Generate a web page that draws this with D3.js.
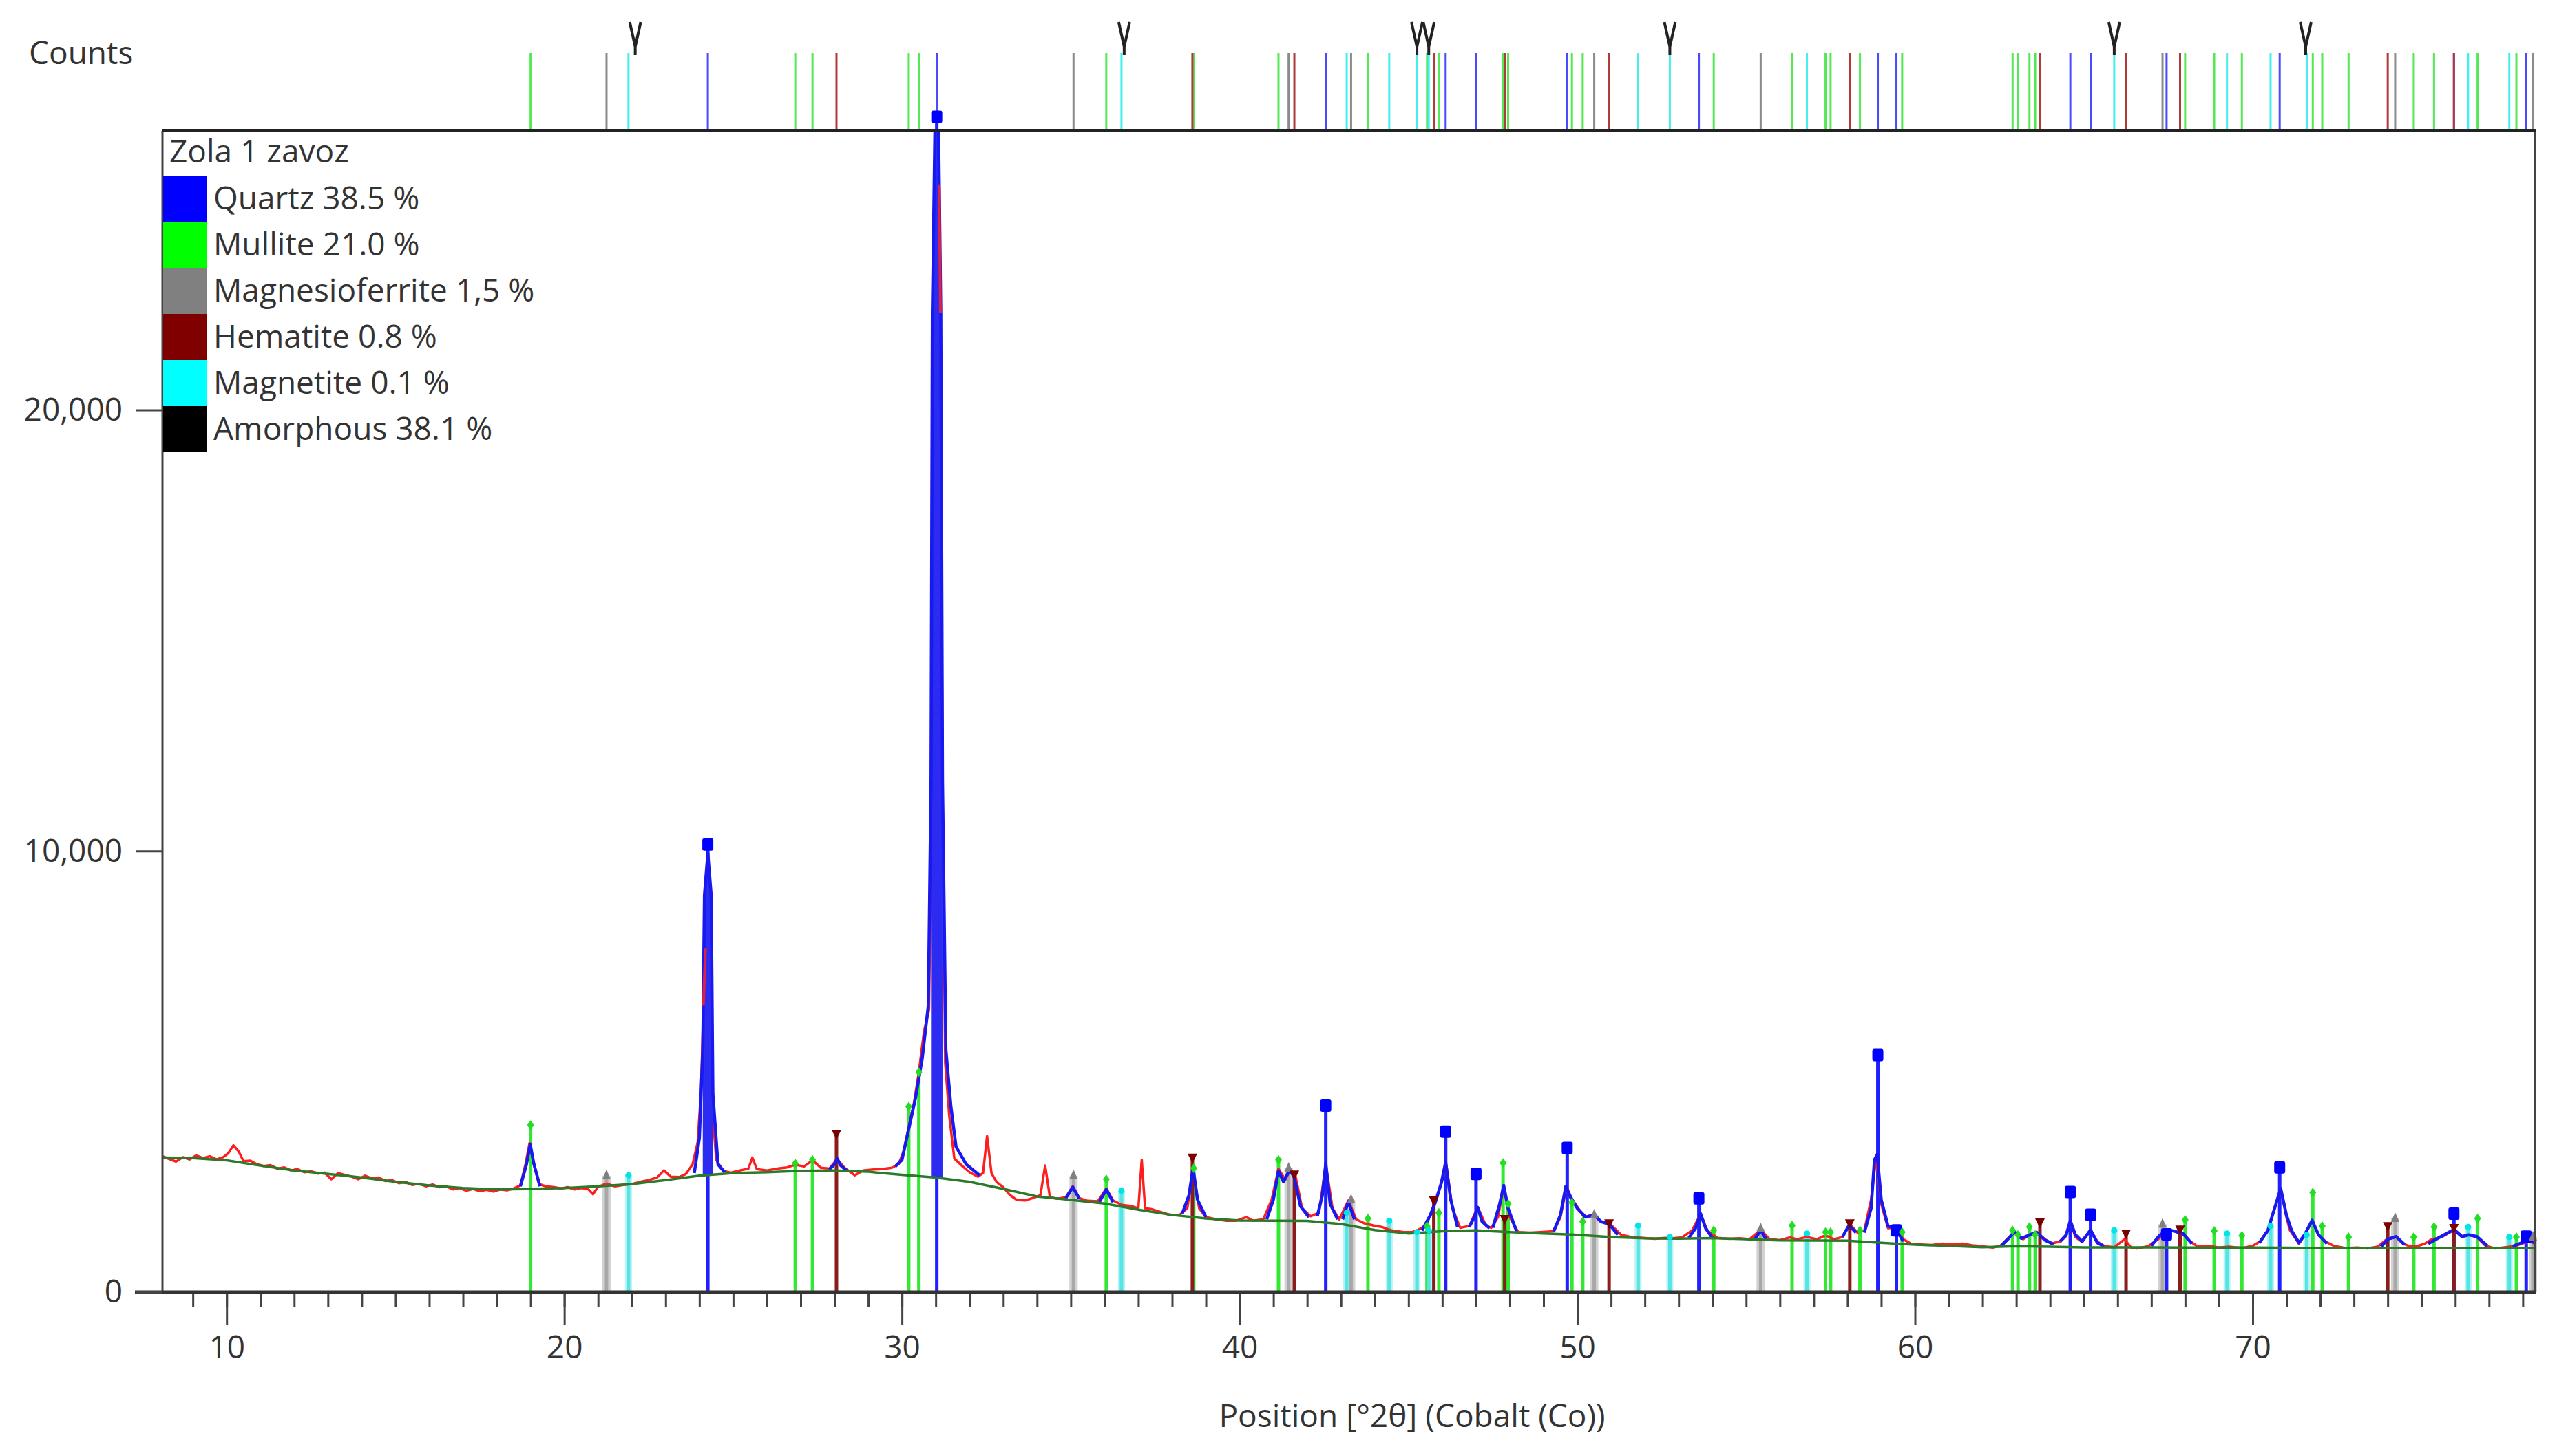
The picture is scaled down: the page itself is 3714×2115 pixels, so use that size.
<!DOCTYPE html>
<html><head><meta charset="utf-8">
<script src="https://cdn.jsdelivr.net/npm/d3@7"></script>
<style>html,body{margin:0;padding:0;background:#fff;} svg{display:block;} text{font-family:"Open Sans","Noto Sans",sans-serif;fill:#333;}</style>
</head><body><svg id="c" width="3714" height="2115"></svg>
<script>
// ---------------- data ----------------
const xMajorTicks = [10, 20, 30, 40, 50, 60, 70];
const xMinorTicks = d3.range(9, 79, 1);
const yTicks = [0, 10000, 20000];
const xTitle = "Position [°2θ] (Cobalt (Co))";
const yTitle = "Counts";
const sampleName = "Zola 1 zavoz";
const legendLabels = ["Quartz 38.5 %", "Mullite 21.0 %", "Magnesioferrite 1,5 %", "Hematite 0.8 %", "Magnetite 0.1 %", "Amorphous 38.1 %"];
const legendColors = ["#0000ff", "#00ff00", "#808080", "#800000", "#00ffff", "#000000"];

// observed pattern (red)  [2theta, counts]
const observed = [
[8.1,3080],[8.3,3020],[8.5,2960],[8.7,3060],[8.9,3010],[9.1,3100],[9.3,3040],[9.5,3080],[9.7,3010],[9.9,3060],
[10.05,3150],[10.2,3330],[10.35,3200],[10.5,2970],[10.7,2980],[10.9,2900],[11.1,2860],[11.3,2880],[11.5,2800],[11.7,2830],
[11.9,2760],[12.1,2790],[12.3,2720],[12.5,2740],[12.7,2690],[12.9,2710],[13.1,2560],[13.3,2700],[13.5,2660],[13.7,2620],
[13.9,2560],[14.1,2640],[14.3,2580],[14.5,2600],[14.7,2520],[14.9,2540],[15.1,2470],[15.3,2500],[15.5,2430],[15.7,2460],
[15.9,2400],[16.1,2440],[16.3,2380],[16.5,2400],[16.7,2330],[16.9,2360],[17.1,2300],[17.3,2340],[17.5,2290],[17.7,2320],
[17.9,2280],[18.1,2330],[18.3,2310],[18.5,2350],[18.7,2420],[18.85,2900],[18.97,3380],[19.1,2900],[19.25,2450],[19.45,2400],
[19.7,2380],[19.9,2350],[20.1,2380],[20.3,2330],[20.5,2360],[20.7,2340],[20.85,2220],[21.0,2390],[21.25,2460],[21.5,2400],
[21.75,2430],[22.0,2450],[22.25,2500],[22.5,2540],[22.75,2600],[22.95,2760],[23.15,2620],[23.4,2610],[23.6,2680],[23.8,2900],
[23.95,3400],[24.05,4600],[24.12,6500],[24.18,7800],[24.25,9600],[24.32,6000],[24.4,4000],[24.5,3000],[24.7,2750],[24.93,2710],
[25.2,2760],[25.45,2800],[25.57,3050],[25.7,2790],[26.0,2760],[26.3,2800],[26.6,2830],[26.84,2890],[27.1,2850],[27.35,2990],
[27.6,2820],[27.85,2800],[28.08,3020],[28.3,2820],[28.6,2650],[28.85,2760],[29.1,2780],[29.4,2790],[29.7,2820],[29.9,2900],
[30.05,3200],[30.2,3750],[30.35,4270],[30.5,4990],[30.65,5900],[30.8,6400],[30.87,10400],[30.95,14000],[31.02,20000],[31.1,25100],
[31.14,22200],[31.2,11500],[31.28,5200],[31.4,4000],[31.55,3030],[31.8,2850],[32.0,2720],[32.25,2620],[32.4,2700],[32.52,3540],
[32.65,2700],[32.8,2500],[33.0,2380],[33.2,2200],[33.4,2090],[33.65,2080],[33.9,2140],[34.1,2200],[34.24,2870],[34.38,2150],
[34.6,2120],[34.85,2150],[35.06,2400],[35.25,2130],[35.5,2070],[35.8,2060],[36.05,2350],[36.25,2080],[36.5,1980],[36.8,1950],
[37.0,1900],[37.1,3000],[37.2,1900],[37.4,1880],[37.6,1830],[37.9,1760],[38.2,1740],[38.45,1900],[38.62,2800],[38.8,1900],
[39.0,1700],[39.3,1650],[39.6,1620],[39.9,1620],[40.2,1700],[40.4,1620],[40.7,1650],[40.95,2100],[41.15,2800],[41.35,2550],
[41.5,2780],[41.65,2650],[41.85,1900],[42.1,1720],[42.35,1800],[42.55,2900],[42.75,1900],[42.95,1650],[43.22,2080],[43.45,1650],
[43.7,1560],[43.97,1510],[44.2,1480],[44.5,1400],[44.9,1360],[45.1,1360],[45.3,1420],[45.53,1520],[45.8,2080],[45.95,2400],
[46.12,2880],[46.3,1900],[46.53,1460],[46.8,1500],[47.05,1930],[47.3,1500],[47.45,1460],[47.65,1700],[47.82,2400],[48.0,1700],
[48.25,1360],[48.6,1350],[48.9,1360],[49.3,1380],[49.5,1700],[49.68,2380],[49.85,2100],[49.96,1980],[50.2,1700],[50.5,1770],
[50.7,1600],[50.95,1560],[51.3,1300],[51.6,1250],[51.94,1230],[52.3,1210],[52.6,1230],[52.83,1220],[53.1,1240],[53.4,1400],
[53.65,1770],[53.85,1400],[54.15,1230],[54.5,1210],[54.8,1220],[55.1,1200],[55.43,1410],[55.7,1200],[56.0,1180],[56.3,1240],
[56.5,1200],[56.8,1250],[57.1,1200],[57.35,1290],[57.6,1200],[57.85,1250],[58.07,1540],[58.3,1350],[58.5,1400],[58.7,2100],
[58.85,3050],[59.0,2000],[59.2,1450],[59.44,1460],[59.65,1200],[59.88,1100],[60.2,1080],[60.5,1070],[60.8,1100],[61.1,1080],
[61.4,1100],[61.7,1060],[62.0,1040],[62.3,1010],[62.55,1060],[62.72,1200],[62.94,1350],[63.2,1200],[63.4,1300],[63.6,1360],
[63.85,1200],[64.04,1100],[64.3,1150],[64.45,1250],[64.6,1620],[64.75,1250],[64.93,1150],[65.2,1410],[65.4,1150],[65.58,1045],
[65.9,1020],[66.21,1200],[66.4,1010],[66.57,990],[66.9,1040],[67.2,1200],[67.45,1410],[67.7,1380],[67.95,1300],[68.15,1150],
[68.35,1045],[68.7,1050],[69.0,1010],[69.3,1030],[69.7,1000],[70.0,1050],[70.22,1150],[70.45,1400],[70.6,1770],[70.83,2350],
[71.0,1700],[71.1,1410],[71.37,1100],[71.55,1300],[71.76,1620],[71.95,1300],[72.15,1150],[72.4,1050],[72.75,1000],[73.1,1010],
[73.4,990],[73.7,1030],[73.97,1200],[74.25,1250],[74.45,1100],[74.64,1045],[74.9,1050],[75.1,1100],[75.3,1200],[75.6,1250],
[75.96,1410],[76.2,1250],[76.38,1300],[76.64,1250],[76.9,1050],[77.19,990],[77.5,1020],[77.8,1050],[77.96,1100],[78.2,1150],[78.36,1100]
];

// calculated profile around peaks (blue)
const calcPeaks = [
[[18.7,2400],[18.88,2900],[18.99,3350],[19.1,2900],[19.28,2400]],
[[23.85,2700],[24.0,3500],[24.1,5500],[24.15,9000],[24.25,9950],[24.35,9000],[24.4,4500],[24.55,2900],[24.75,2720]],
[[27.85,2780],[28.0,2900],[28.08,3030],[28.18,2880],[28.35,2760]],
[[29.8,2850],[30.0,3000],[30.2,3700],[30.4,4400],[30.6,5300],[30.78,6500],[30.86,11600],[30.9,22200],[30.98,26600],[31.08,26600],[31.15,22200],[31.2,11600],[31.3,5500],[31.45,4200],[31.6,3300],[31.9,2900],[32.3,2650]],
[[34.85,2130],[35.06,2380],[35.25,2120]],
[[35.85,2050],[36.05,2330],[36.25,2040]],
[[38.3,1780],[38.5,2200],[38.62,2820],[38.75,2100],[39.0,1700]],
[[40.8,1650],[41.0,2100],[41.15,2750],[41.3,2500],[41.48,2780],[41.62,2600],[41.8,1950],[42.05,1700]],
[[42.3,1720],[42.45,2200],[42.55,2920],[42.68,2000],[42.9,1650]],
[[43.05,1650],[43.22,2050],[43.4,1650]],
[[45.4,1400],[45.65,1750],[45.8,2050],[45.98,2500],[46.1,2950],[46.25,2100],[46.45,1480]],
[[46.8,1480],[46.95,1700],[47.05,1920],[47.18,1600],[47.4,1450]],
[[47.5,1460],[47.7,2000],[47.82,2420],[47.95,1900],[48.2,1380]],
[[49.3,1380],[49.5,1750],[49.66,2400],[49.8,2150],[50.0,1900],[50.25,1700],[50.5,1750],[50.7,1600],[50.95,1540],[51.2,1300]],
[[53.3,1230],[53.5,1450],[53.65,1780],[53.8,1450],[54.0,1230]],
[[55.25,1200],[55.43,1400],[55.6,1190]],
[[57.85,1250],[58.05,1520],[58.25,1350]],
[[58.5,1350],[58.7,1900],[58.8,3000],[58.88,3120],[59.0,2100],[59.2,1500],[59.44,1450],[59.65,1150]],
[[62.55,1050],[62.75,1200],[62.94,1370],[63.15,1220],[63.4,1300],[63.6,1360],[63.85,1180],[64.1,1090]],
[[64.3,1150],[64.48,1300],[64.6,1620],[64.75,1300],[64.95,1150],[65.2,1410],[65.4,1120],[65.6,1040]],
[[67.0,1050],[67.2,1250],[67.45,1420],[67.7,1380],[67.95,1320],[68.2,1100]],
[[70.2,1120],[70.45,1400],[70.6,1780],[70.83,2350],[71.0,1750],[71.15,1400],[71.37,1120],[71.55,1320],[71.76,1630],[71.95,1300],[72.2,1100]],
[[73.8,1030],[74.0,1200],[74.25,1260],[74.5,1080]],
[[75.2,1100],[75.5,1230],[75.96,1420],[76.2,1260],[76.4,1300],[76.64,1260],[76.95,1050]],
[[77.7,1040],[77.96,1120],[78.2,1180],[78.36,1120]]
];
// strong narrow peaks drawn as solid columns: calcPeaks index, 2theta range, base level
const filledPeaks = [1, 3];
const filledRanges = [[24.1, 24.4], [30.86, 31.2]];
const filledBase = [2650, 2620];

// background (green)
const background = [
[8.1,3050],[9,3040],[10,2990],[11,2870],[12,2760],[13,2680],[14,2600],[15,2500],[16,2420],[17,2360],[18,2330],[19,2340],
[20,2360],[21,2400],[22,2450],[23,2540],[24,2640],[25,2700],[26,2720],[27,2750],[28,2760],[29,2730],[30,2660],[31,2600],
[32,2500],[33,2340],[34,2170],[35,2090],[36,2010],[37,1870],[38,1750],[39,1670],[40,1625],[41,1620],[42,1615],[43,1545],
[44,1410],[45,1330],[46,1380],[47,1400],[48,1360],[49,1330],[50,1300],[51,1250],[52,1220],[53,1215],[54,1225],[55,1200],
[56,1175],[57,1170],[58,1165],[59,1120],[60,1075],[61,1050],[62,1020],[63,1040],[64,1030],[65,1015],[66,1015],[67,1015],
[68,1010],[69,1010],[70,1010],[71,1005],[72,1000],[73,1000],[74,1000],[75,1000],[76,1000],[77,1000],[78,1000],[78.36,1000]
];

// reference sticks per phase [position, marker height]
const quartz = [[24.25,10150],[31.03,26650],[42.55,4230],[46.1,3640],[47.0,2680],[49.7,3270],[53.6,2125],[58.9,5375],[59.45,1400],[64.6,2270],[65.2,1755],[67.45,1310],[70.8,2830],[75.96,1780],[78.1,1260]];
const mullite = [[19.0,3790],[26.84,2920],[27.35,3000],[30.2,4210],[30.5,4990],[36.05,2560],[38.64,2810],[41.15,3000],[43.8,1670],[45.55,1500],[45.9,1800],[47.8,2930],[47.95,2000],[49.84,2030],[50.16,1600],[54.04,1400],[56.36,1510],[57.35,1360],[57.5,1360],[58.37,1400],[59.62,1360],[62.89,1400],[63.05,1300],[63.39,1480],[63.56,1300],[68.0,1640],[68.86,1390],[69.68,1280],[71.78,2260],[72.06,1500],[72.84,1250],[74.77,1250],[75.37,1480],[76.66,1670],[77.81,1250]];
const magnesioferrite = [[21.25,2640],[35.08,2640],[41.45,2810],[43.3,2090],[50.5,1750],[55.43,1440],[67.33,1540],[74.22,1670],[78.3,1250]];
const hematite = [[28.06,3570],[38.6,3030],[41.62,2650],[45.75,2060],[47.85,1640],[50.94,1540],[58.07,1540],[63.7,1560],[66.25,1310],[67.85,1400],[74.0,1480],[75.96,1435]];
const magnetite = [[21.9,2650],[36.5,2300],[43.17,1800],[44.43,1620],[45.25,1360],[45.6,1400],[51.8,1510],[52.74,1250],[56.8,1330],[65.9,1400],[69.24,1330],[70.53,1500],[71.6,1300],[76.38,1480],[77.6,1250]];
// peak-marker positions in the upper strip
const stripMarks = [22.1, 36.58, 45.25, 45.6, 52.74, 65.9, 71.57];

// ---------------- drawing ----------------
const FONT = 46;
const svg = d3.select("#c");
const L = 236, R = 3682, T = 190, B = 1877;
const x = d3.scaleLinear().domain([8.1, 78.36]).range([L, R]);
const y = d3.scaleLinear().domain([0, 26330]).range([B, T]);

svg.append("rect").attr("width", 3714).attr("height", 2115).attr("fill", "#fff");
svg.append("defs").append("clipPath").attr("id", "pc").append("rect")
  .attr("x", L).attr("y", T).attr("width", R - L).attr("height", B - T);

const phases = [
  {data: quartz, stick: "#1f1fff", strip: "#4a4aff", mark: "square", mc: "#0000ff"},
  {data: mullite, stick: "#33e833", strip: "#55e855", mark: "diamond", mc: "#22dd22"},
  {data: magnesioferrite, stick: "#a8a8a8", strip: "#8a8a8a", mark: "tri", mc: "#808080"},
  {data: hematite, stick: "#8b1c1c", strip: "#b03a3a", mark: "tridown", mc: "#7a0000"},
  {data: magnetite, stick: "#55e5e5", strip: "#44eeee", mark: "dot", mc: "#00e5e5"}
];

// top strip lines
const strip = svg.append("g");
phases.forEach(p => {
  strip.selectAll(null).data(p.data).enter().append("line")
    .attr("x1", d => x(d[0])).attr("x2", d => x(d[0]))
    .attr("y1", 77).attr("y2", T)
    .attr("stroke", p.strip).attr("stroke-width", 3);
});
// V markers
strip.selectAll(null).data(stripMarks).enter().append("path")
  .attr("d", d => { const cx = x(d); return `M${cx-8},32 L${cx},68 L${cx+8},32 M${cx},64 L${cx},80`; })
  .attr("fill", "none").attr("stroke", "#222").attr("stroke-width", 4);

// sticks in main plot
const sticks = svg.append("g");
sticks.selectAll(null).data(magnesioferrite).enter().append("line")
  .attr("x1", d => x(d[0])).attr("x2", d => x(d[0]))
  .attr("y1", y(0)).attr("y2", d => y(d[1]))
  .attr("stroke", "#d2d2d2").attr("stroke-width", 12);
sticks.selectAll(null).data(magnetite).enter().append("line")
  .attr("x1", d => x(d[0])).attr("x2", d => x(d[0]))
  .attr("y1", y(0)).attr("y2", d => y(d[1]))
  .attr("stroke", "#b8f2f2").attr("stroke-width", 10);
phases.forEach(p => {
  sticks.selectAll(null).data(p.data).enter().append("line")
    .attr("x1", d => x(d[0])).attr("x2", d => x(d[0]))
    .attr("y1", y(0)).attr("y2", d => y(d[1]))
    .attr("stroke", p.stick).attr("stroke-width", 5);
});

// curves
const line = d3.line().x(d => x(d[0])).y(d => y(d[1]));
const curves = svg.append("g").attr("clip-path", "url(#pc)");
curves.append("path").datum(observed).attr("d", line)
  .attr("fill", "none").attr("stroke", "#ff1e1e").attr("stroke-width", 3.5).attr("stroke-linejoin", "round");
filledPeaks.forEach((idx, k) => {
  const r = filledRanges[k];
  const area = d3.area().x(d => x(d[0])).y0(y(filledBase[k])).y1(d => y(d[1]));
  curves.append("path").datum(calcPeaks[idx].filter(d => d[0] >= r[0] && d[0] <= r[1])).attr("d", area).attr("fill", "#2b2bf2");
});
curves.selectAll(null).data(calcPeaks).enter().append("path").attr("d", line)
  .attr("fill", "none").attr("stroke", "#1818f0").attr("stroke-width", 4.5).attr("stroke-linejoin", "round");
curves.append("path").datum(observed.filter(d => d[0] > 31.05 && d[0] < 31.2)).attr("d", line)
  .attr("fill", "none").attr("stroke", "#e02040").attr("stroke-width", 4);
curves.append("path").datum(observed.filter(d => d[0] > 24.1 && d[0] < 24.22)).attr("d", line)
  .attr("fill", "none").attr("stroke", "#e02040").attr("stroke-width", 4);
curves.append("path").datum(background).attr("d", line)
  .attr("fill", "none").attr("stroke", "#2a7a2a").attr("stroke-width", 3.5);

// markers
const mk = svg.append("g");
phases.forEach(p => {
  const g = mk.selectAll(null).data(p.data).enter();
  if (p.mark === "square") {
    g.append("rect").attr("x", d => x(d[0]) - 8).attr("y", d => y(d[1]) - 9).attr("width", 16).attr("height", 18).attr("rx", 3).attr("fill", p.mc);
  } else if (p.mark === "diamond") {
    g.append("path").attr("d", d => { const cx = x(d[0]), cy = y(d[1]); return `M${cx},${cy-7}L${cx+5},${cy}L${cx},${cy+7}L${cx-5},${cy}Z`; }).attr("fill", p.mc);
  } else if (p.mark === "tri") {
    g.append("path").attr("d", d => { const cx = x(d[0]), cy = y(d[1]); return `M${cx},${cy-9}L${cx+6},${cy+5}L${cx-6},${cy+5}Z`; }).attr("fill", p.mc);
  } else if (p.mark === "tridown") {
    g.append("path").attr("d", d => { const cx = x(d[0]), cy = y(d[1]); return `M${cx-7},${cy-7}L${cx+7},${cy-7}L${cx},${cy+7}Z`; }).attr("fill", p.mc);
  } else {
    g.append("circle").attr("cx", d => x(d[0])).attr("cy", d => y(d[1])).attr("r", 4.5).attr("fill", p.mc);
  }
});

// frame
svg.append("line").attr("x1", L).attr("x2", L).attr("y1", T).attr("y2", B).attr("stroke", "#444").attr("stroke-width", 3);
svg.append("line").attr("x1", R).attr("x2", R).attr("y1", T).attr("y2", B).attr("stroke", "#444").attr("stroke-width", 3);
svg.append("line").attr("x1", L).attr("x2", R + 1).attr("y1", T).attr("y2", T).attr("stroke", "#222").attr("stroke-width", 4);

// x axis
const xMinor = svg.append("g").attr("transform", `translate(0,${B})`)
  .call(d3.axisBottom(x).tickValues(xMinorTicks).tickSize(21).tickFormat(""));
const xMajor = svg.append("g").attr("transform", `translate(0,${B})`)
  .call(d3.axisBottom(x).tickValues(xMajorTicks).tickSize(48).tickPadding(15).tickFormat(d3.format("d")));
[xMinor, xMajor].forEach(g => {
  g.select(".domain").remove();
  g.selectAll(".tick line").attr("stroke", "#444").attr("stroke-width", 3);
});
xMajor.selectAll(".tick text").attr("font-size", FONT).attr("fill", "#333").style("font-family", '"Open Sans","Noto Sans",sans-serif');
svg.append("line").attr("x1", 196).attr("x2", R + 1).attr("y1", B).attr("y2", B).attr("stroke", "#333").attr("stroke-width", 5);

// y axis
const yAx = svg.append("g").attr("transform", `translate(${L},0)`)
  .call(d3.axisLeft(y).tickValues(yTicks).tickSize(38).tickPadding(20).tickFormat(d3.format(",")));
yAx.select(".domain").remove();
yAx.selectAll(".tick line").attr("stroke", "#444").attr("stroke-width", 3);
yAx.selectAll(".tick text").attr("font-size", FONT).attr("fill", "#333").style("font-family", '"Open Sans","Noto Sans",sans-serif');

// titles
svg.append("text").attr("x", 42).attr("y", 93).attr("font-size", FONT).text(yTitle);
svg.append("text").attr("x", (L + R) / 2 + 92).attr("y", 2073).attr("text-anchor", "middle").attr("font-size", FONT).text(xTitle);

// legend
const lg = svg.append("g");
lg.append("text").attr("x", 246).attr("y", 236).attr("font-size", FONT).text(sampleName);
legendLabels.forEach((lab, i) => {
  const top = 255 + i * 67;
  lg.append("rect").attr("x", 237).attr("y", top).attr("width", 64).attr("height", 67).attr("fill", legendColors[i]);
  lg.append("text").attr("x", 310).attr("y", top + 49).attr("font-size", FONT).text(lab);
});
</script></body></html>
